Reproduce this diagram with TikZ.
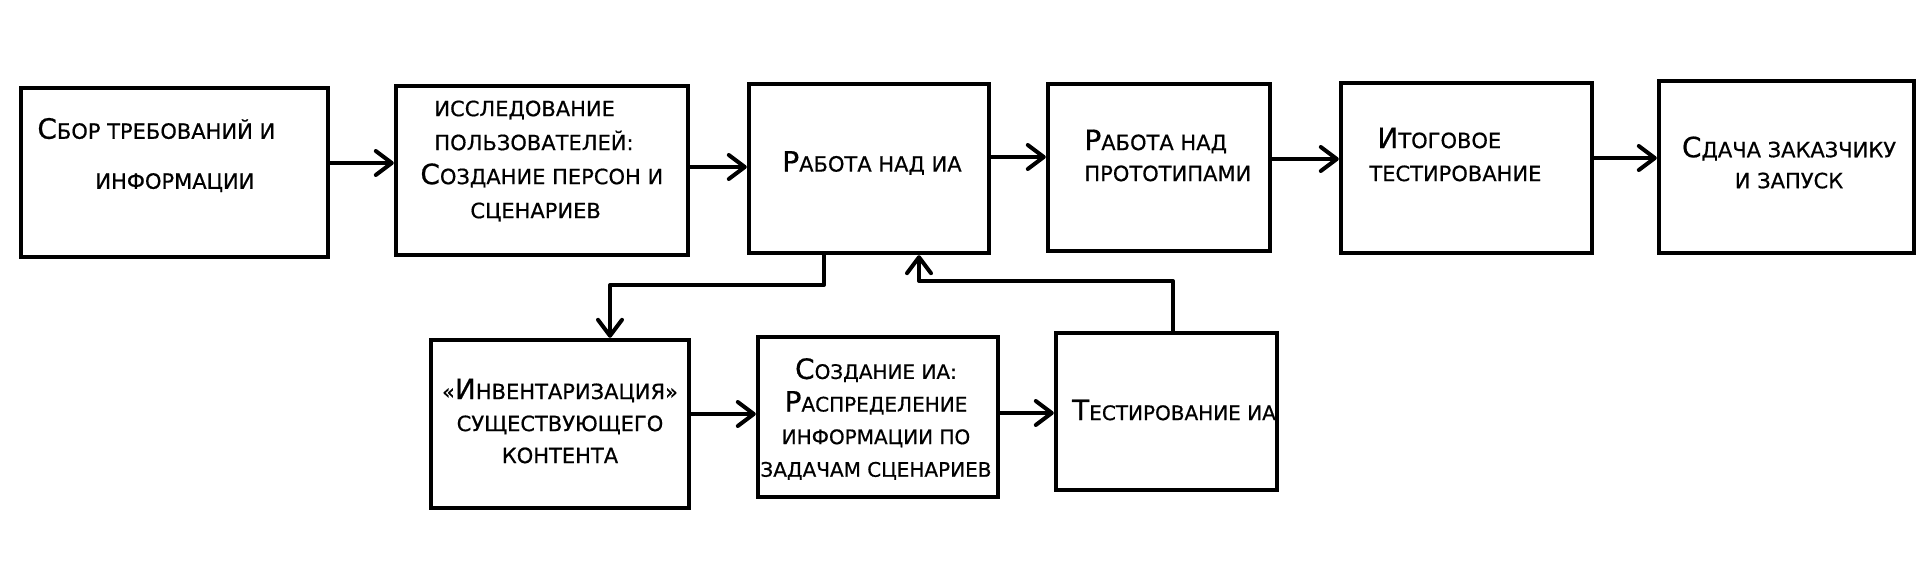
\documentclass[tikz,border=0pt]{standalone}
\usepackage{fontspec}
\setmainfont{DejaVu Sans}[UprightFeatures={FakeBold=0.6}]
\usetikzlibrary{arrows.meta}
\newcommand{\bigini}[1]{{\fontsize{14}{14}\selectfont #1}}
\begin{document}
\begin{tikzpicture}[x=0.5pt,y=-0.5pt,
  box/.style={draw, line width=2.2pt, rectangle, inner sep=0pt},
  txt/.style={font=\fontsize{10.5}{16}\selectfont, align=center, inner sep=0pt},
  arr/.style={line width=2pt, line join=round, -{Straight Barb[length=8pt,width=12pt,round]}}]
\useasboundingbox (0,0) rectangle (1920,574);
\fill[white] (0,0) rectangle (1920,574);

% top row
\node[box, minimum width=153.5pt, minimum height=84.5pt] (b1) at (174.5,172.5) {};
\node[box, minimum width=146pt, minimum height=84.5pt] (b2) at (542,170.5) {};
\node[box, minimum width=120pt, minimum height=84.5pt] (b3) at (869,168.5) {};
\node[box, minimum width=111pt, minimum height=83.5pt] (b4) at (1159,167.5) {};
\node[box, minimum width=125.5pt, minimum height=85pt] (b5) at (1466.5,168) {};
\node[box, minimum width=127.5pt, minimum height=86pt] (b6) at (1786.5,167) {};
% bottom row
\node[box, minimum width=129pt, minimum height=84pt] (b7) at (560,424) {};
\node[box, minimum width=120pt, minimum height=80pt] (b8) at (878,417) {};
\node[box, minimum width=110.5pt, minimum height=78.5pt] (b9) at (1166.5,411.5) {};

% texts
\node[txt, font=\fontsize{10.5}{25}\selectfont, align=left, anchor=west] (t1) at (37,155) {\bigini{С}БОР ТРЕБОВАНИЙ И\\ \hspace*{29pt}ИНФОРМАЦИИ};
\node[txt, font=\fontsize{10.5}{17}\selectfont, align=left, anchor=west] (t2) at (420,161) {\hspace*{7pt}ИССЛЕДОВАНИЕ\\\hspace*{7pt}ПОЛЬЗОВАТЕЛЕЙ:\\\bigini{С}ОЗДАНИЕ ПЕРСОН И\\\hspace*{25pt}СЦЕНАРИЕВ};
\node[txt] (t3) at (872,163) {\bigini{Р}АБОТА НАД ИА};
\node[txt, font=\fontsize{10.5}{15.5}\selectfont, align=left, anchor=west] (t4) at (1084,155.5) {\bigini{Р}АБОТА НАД\\ПРОТОТИПАМИ};
\node[txt, font=\fontsize{10.5}{16.5}\selectfont, align=left, anchor=west] (t5) at (1369,154.5) {\hspace*{4pt}\bigini{И}ТОГОВОЕ\\ТЕСТИРОВАНИЕ};
\node[txt, font=\fontsize{10.5}{15.5}\selectfont] (t6) at (1789,162.5) {\bigini{С}ДАЧА ЗАКАЗЧИКУ\\И ЗАПУСК};
\node[txt, font=\fontsize{10.5}{16}\selectfont] (t7) at (560,421) {«\bigini{И}НВЕНТАРИЗАЦИЯ»\\СУЩЕСТВУЮЩЕГО\\КОНТЕНТА};
\node[txt, font=\fontsize{10}{16.3}\selectfont] (t8) at (876,419) {\bigini{С}ОЗДАНИЕ ИА:\\\bigini{Р}АСПРЕДЕЛЕНИЕ\\ИНФОРМАЦИИ ПО\\ЗАДАЧАМ СЦЕНАРИЕВ};
\node[txt, font=\fontsize{10}{16}\selectfont] (t9) at (1174,410) {\bigini{Т}ЕСТИРОВАНИЕ ИА};

% horizontal arrows
\draw[arr] (b1.east |- 0,163) -- (b2.west |- 0,163);
\draw[arr] (b2.east |- 0,167) -- (b3.west |- 0,167);
\draw[arr] (b3.east |- 0,157) -- (b4.west |- 0,157);
\draw[arr] (b4.east |- 0,159) -- (b5.west |- 0,159);
\draw[arr] (b5.east |- 0,158) -- (b6.west |- 0,158);
\draw[arr] (b7.east |- 0,414) -- (b8.west |- 0,414);
\draw[arr] (b8.east |- 0,413) -- (b9.west |- 0,413);

% elbow connectors
\coordinate (d0) at (824,285);
\coordinate (d1) at (610,285);
\draw[arr] (b3.south -| d0) -- (d0) -- (d1) -- (b7.north -| d1);
\coordinate (u1) at (1173,281);
\coordinate (u2) at (919,281);
\draw[arr] (b9.north -| u1) -- (u1) -- (u2) -- (b3.south -| u2);
\end{tikzpicture}
\end{document}
